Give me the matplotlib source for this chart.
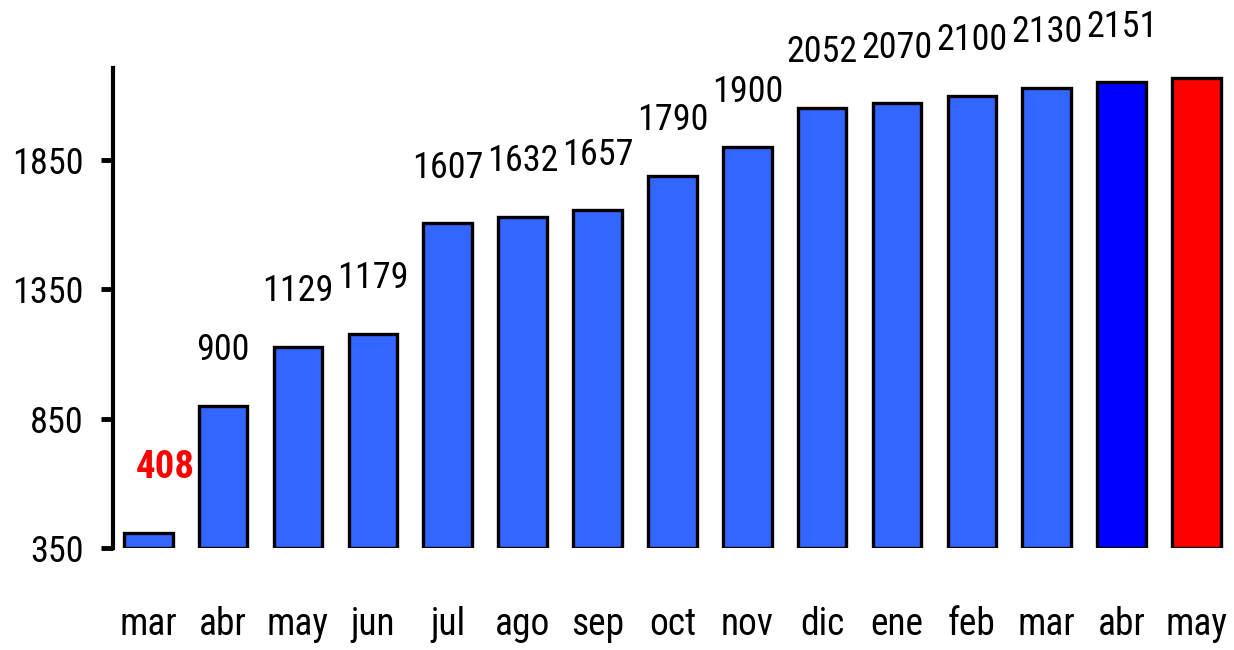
import matplotlib
matplotlib.use("Agg")
import matplotlib.pyplot as plt

# data
months = ["mar", "abr", "may", "jun", "jul", "ago", "sep", "oct", "nov",
          "dic", "ene", "feb", "mar", "abr", "may"]
values = [408, 900, 1129, 1179, 1607, 1632, 1657, 1790, 1900,
          2052, 2070, 2100, 2130, 2151, 2167]
labels = ["408", "900", "1129", "1179", "1607", "1632", "1657", "1790", "1900",
          "2052", "2070", "2100", "2130", "2151", ""]
yticks = [350, 850, 1350, 1850]

BASE = 350
colors = ["#3366FF"] * 13 + ["#0000FF", "#FF0000"]

plt.rcParams['font.family'] = ['Roboto Condensed', 'Liberation Sans', 'DejaVu Sans']

fig = plt.figure(figsize=(12.34, 6.5), dpi=100)
ax = fig.add_axes([0.0916, 0.157, 0.9084, 0.738])

x = list(range(len(values)))
heights = [v - BASE for v in values]
ax.bar(x, heights, bottom=BASE, width=0.65, color=colors,
       edgecolor="black", linewidth=2.4)

# value labels above each bar
for i, (v, lab) in enumerate(zip(values, labels)):
    if not lab:
        continue
    if i == 0:
        ax.annotate(lab, (i, v), xytext=(12, 47), textcoords="offset points",
                    ha="center", va="center", fontsize=28, color="red",
                    fontweight="bold", annotation_clip=False)
    else:
        ax.annotate(lab, (i, v), xytext=(0, 40), textcoords="offset points",
                    ha="center", va="center", fontsize=26, color="black",
                    annotation_clip=False)

ax.set_xlim(-0.47, 14.5)
ax.set_ylim(BASE, 2206)
ax.set_yticks(yticks)
ax.set_yticklabels([str(t) for t in yticks], fontsize=26)
ax.set_xticks(x)
ax.set_xticklabels(months, fontsize=27)
ax.tick_params(axis="x", length=0, pad=42)
ax.tick_params(axis="y", length=9, width=3.5, direction="out", pad=12)

for s in ["top", "right", "bottom"]:
    ax.spines[s].set_visible(False)
ax.spines["left"].set_linewidth(3)

fig.savefig("out.png", dpi=100)
